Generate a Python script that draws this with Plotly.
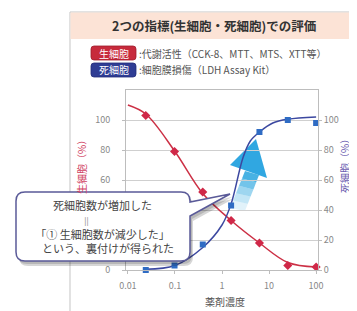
import plotly.graph_objects as go

# ---- data ----
conc = [0.024, 0.098, 0.39, 1.56, 6.25, 25, 100]
viable = [103, 79, 52, 33, 18, 3, 2]
dead = [0, 3, 17, 43, 92, 100, 98]

red_fit_x = [0.01, 0.024, 0.1, 0.39, 1.56, 6.25, 25, 100]
red_fit_y = [110, 104, 79, 51, 33, 18, 5, 2]
blue_fit_x = [0.024, 0.1, 0.39, 1, 1.56, 2.8, 4, 6.25, 12, 25, 100]
blue_fit_y = [0.5, 3, 15, 30, 44, 75, 86, 92, 98, 100.5, 102]

x_ticks = [0.01, 0.1, 1, 10, 100]
x_tick_labels = ["0.01", "0.1", "1", "10", "100"]
y_ticks = [0, 20, 40, 60, 80, 100]
y_left_visible = [0, 60, 80, 100]   # 20 and 40 are hidden by the callout

FONT = "Noto Sans CJK JP"
W, H = 357, 311
L, R, T, B = 118, 310, 82, 262


def P(px, py):
    return (px - L) / (R - L), (B - py) / (B - T)


def path(points_cmds):
    out = []
    for c in points_cmds:
        if isinstance(c, str):
            out.append(c)
        else:
            x, y = P(*c)
            out.append(f"{x:.5f},{y:.5f}")
    return " ".join(out)


def poly(pts):
    cmds = ["M", pts[0]]
    for p in pts[1:]:
        cmds += ["L", p]
    cmds.append("Z")
    return path(cmds)


def rrect(x0, y0, x1, y1, r):
    return path(["M", (x0 + r, y0), "L", (x1 - r, y0), "Q", (x1, y0), (x1, y0 + r),
                 "L", (x1, y1 - r), "Q", (x1, y1), (x1 - r, y1),
                 "L", (x0 + r, y1), "Q", (x0, y1), (x0, y1 - r),
                 "L", (x0, y0 + r), "Q", (x0, y0), (x0 + r, y0), "Z"])


def callout(dx=0, dy=0):
    x0, y0, x1, y1, r = 8 + dx, 184 + dy, 182 + dx, 253 + dy, 9
    return path(["M", (x0 + r, y0), "L", (x1 - r, y0), "Q", (x1, y0), (x1, y0 + r),
                 "L", (x1, 194 + dy), "L", (222 + dx, 186 + dy), "L", (x1, 208 + dy),
                 "L", (x1, y1 - r), "Q", (x1, y1), (x1 - r, y1),
                 "L", (x0 + r, y1), "Q", (x0, y1), (x0, y1 - r),
                 "L", (x0, y0 + r), "Q", (x0, y0), (x0 + r, y0), "Z"])


fig = go.Figure()

fig.add_trace(go.Scatter(x=red_fit_x, y=red_fit_y, mode="lines", line=dict(color="#cc3045", width=1.5, shape="spline", smoothing=1.0), hoverinfo="skip"))
fig.add_trace(go.Scatter(x=conc, y=viable, mode="markers", marker=dict(color="#d02848", size=7, symbol="diamond"), cliponaxis=False))
fig.add_trace(go.Scatter(x=blue_fit_x, y=blue_fit_y, mode="lines", yaxis="y2", line=dict(color="#3c48a0", width=1.5, shape="spline", smoothing=1.0), hoverinfo="skip"))
fig.add_trace(go.Scatter(x=conc, y=dead, mode="markers", yaxis="y2", marker=dict(color="#2f6cc4", size=6, symbol="square"), cliponaxis=False))

shapes = []
# outer box with shadow
shapes.append(dict(type="path", path=poly([(64, 7), (355, 7), (355, 310), (64, 310)]), xref="paper", yref="paper", fillcolor="rgba(0,0,0,0.28)", line=dict(width=0), layer="below"))
shapes.append(dict(type="path", path=poly([(62, 4), (352, 4), (352, 307), (62, 307)]), xref="paper", yref="paper", fillcolor="white", line=dict(color="#c4c4c4", width=1), layer="below"))
shapes.append(dict(type="path", path=poly([(62.5, 4.5), (351.5, 4.5), (351.5, 31), (62.5, 31)]), xref="paper", yref="paper", fillcolor="#fce3d6", line=dict(width=0), layer="below"))
# legend badges
shapes.append(dict(type="path", path=rrect(83, 38, 128, 52, 3), xref="paper", yref="paper", fillcolor="#c72a3c", line=dict(color="#a01c2c", width=0.8)))
shapes.append(dict(type="path", path=rrect(83, 55, 128, 69, 3), xref="paper", yref="paper", fillcolor="#2f3d94", line=dict(color="#222c78", width=0.8)))
# arrow (gradient approximation)
top_l, top_r = (237, 163), (251, 167)
bot_l, bot_r = (222, 200), (237, 203)
alphas = [0.85, 0.65, 0.45, 0.28, 0.14]
n = len(alphas)


def lerp(p, q, t):
    return (p[0] + (q[0] - p[0]) * t, p[1] + (q[1] - p[1]) * t)


for i, a in enumerate(alphas):
    t0, t1 = i / n, (i + 1) / n
    pts = [lerp(top_l, bot_l, t0), lerp(top_r, bot_r, t0), lerp(top_r, bot_r, t1), lerp(top_l, bot_l, t1)]
    shapes.append(dict(type="path", path=poly(pts), xref="paper", yref="paper", fillcolor=f"rgba(40,165,222,{a})", line=dict(width=0), layer="between"))
shapes.append(dict(type="path", path=poly([(222, 157), (248, 131), (259, 170)]), xref="paper", yref="paper", fillcolor="rgba(30,160,222,0.92)", line=dict(width=0), layer="between"))
# callout shadow + box
shapes.append(dict(type="path", path=callout(3, 5), xref="paper", yref="paper", fillcolor="rgba(0,0,0,0.16)", line=dict(width=0)))
shapes.append(dict(type="path", path=callout(2, 3), xref="paper", yref="paper", fillcolor="rgba(0,0,0,0.14)", line=dict(width=0)))
shapes.append(dict(type="path", path=callout(), xref="paper", yref="paper", fillcolor="white", line=dict(color="#5a5a98", width=1.5)))

ann = []


def A(px, py, text, size=10, color="#555", xanchor="center", angle=0):
    x, y = P(px, py)
    ann.append(dict(x=x, y=y, xref="paper", yref="paper", text=text, showarrow=False,
                    xanchor=xanchor, yanchor="middle", textangle=angle, borderpad=0,
                    font=dict(family=FONT, size=size, color=color)))


A(206, 18, "<b>2つの指標(生細胞・死細胞)での評価</b>", 12.5, "#333")
A(105.5, 45, "生細胞", 10, "white")
A(105.5, 62, "死細胞", 10, "white")
A(130, 45, ":代謝活性（CCK-8、MTT、MTS、XTT等）", 10, "#555", "left")
A(130, 62, ":細胞膜損傷（LDH Assay Kit）", 10, "#555", "left")
A(73, 157, "生細胞（%）", 10, "#d04060", angle=-90)
A(336, 156, "死細胞（%）", 10, "#6a5cb0", angle=-90)
A(217, 293, "薬剤濃度", 10, "#555")
callout_text = ("死細胞数が増加した<br>"
                "<span style='font-size:8px;color:#777'>||　　　　</span><br>"
                "「① 生細胞数が減少した」<br>"
                "　という、裏付けが得られた")
A(94, 218, callout_text, 11, "#444")

fig.update_layout(
    width=W, height=H, margin=dict(l=L, r=W - R, t=T, b=H - B),
    paper_bgcolor="white", plot_bgcolor="rgba(0,0,0,0)", showlegend=False,
    xaxis=dict(type="log", range=[-2.04, 2.04], tickvals=x_ticks, ticktext=x_tick_labels,
               showgrid=False, showline=True, linecolor="#bdbdbd", mirror=True, ticks="outside",
               ticklen=3, tickcolor="#bdbdbd", ticklabelstandoff=4,
               tickfont=dict(family=FONT, size=9, color="#888")),
    yaxis=dict(range=[0, 120], tickvals=y_left_visible, mirror=True,
               ticklabelstandoff=10, showgrid=False,
               showline=True, linecolor="#bdbdbd", ticks="outside", ticklen=3, tickcolor="#bdbdbd",
               zeroline=False, tickfont=dict(family=FONT, size=9, color="#888")),
    yaxis2=dict(range=[0, 120], tickvals=y_ticks, overlaying="y", side="right",
                showgrid=True, gridcolor="#cfcfcf", gridwidth=1,
                showline=True, linecolor="#bdbdbd", ticks="outside", ticklen=3,
                tickcolor="#bdbdbd", ticklabelstandoff=0, zeroline=False,
                tickfont=dict(family=FONT, size=9, color="#888")),
    shapes=shapes, annotations=ann,
)

fig.write_html("out.html")
